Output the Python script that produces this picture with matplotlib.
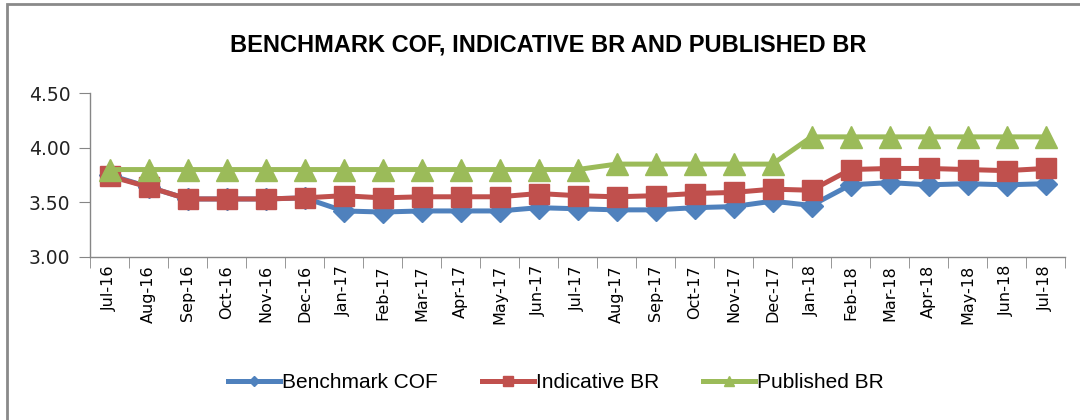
import matplotlib
matplotlib.use("Agg")
import matplotlib.pyplot as plt
from matplotlib.patches import Rectangle

months = ["Jul-16", "Aug-16", "Sep-16", "Oct-16", "Nov-16", "Dec-16",
          "Jan-17", "Feb-17", "Mar-17", "Apr-17", "May-17", "Jun-17",
          "Jul-17", "Aug-17", "Sep-17", "Oct-17", "Nov-17", "Dec-17",
          "Jan-18", "Feb-18", "Mar-18", "Apr-18", "May-18", "Jun-18", "Jul-18"]

benchmark_cof = [3.75, 3.64, 3.53, 3.53, 3.53, 3.54,
                 3.42, 3.41, 3.42, 3.42, 3.42, 3.45,
                 3.44, 3.43, 3.43, 3.45, 3.46, 3.51,
                 3.47, 3.66, 3.68, 3.66, 3.67, 3.66, 3.67]

indicative_br = [3.74, 3.64, 3.53, 3.53, 3.53, 3.54,
                 3.56, 3.54, 3.55, 3.55, 3.55, 3.58,
                 3.56, 3.55, 3.56, 3.58, 3.59, 3.62,
                 3.61, 3.80, 3.81, 3.81, 3.80, 3.79, 3.81]

published_br = [3.80, 3.80, 3.80, 3.80, 3.80, 3.80,
                3.80, 3.80, 3.80, 3.80, 3.80, 3.80,
                3.80, 3.85, 3.85, 3.85, 3.85, 3.85,
                4.10, 4.10, 4.10, 4.10, 4.10, 4.10, 4.10]

fig = plt.figure(figsize=(10.8, 4.2), dpi=100)
ax = fig.add_axes([90 / 1080, 163.3 / 420, 975 / 1080, 163.4 / 420])

x = list(range(len(months)))
ax.plot(x, benchmark_cof, color="#4F81BD", lw=3.6, marker="D", ms=11,
        label="Benchmark COF", zorder=3)
ax.plot(x, indicative_br, color="#C0504D", lw=3.6, marker="s", ms=15,
        label="Indicative BR", zorder=4)
ax.plot(x, published_br, color="#9BBB59", lw=3.6, marker="^", ms=16,
        label="Published BR", zorder=5)

ax.set_xlim(-0.5, len(months) - 0.5)
ax.set_ylim(3.0, 4.5)
ax.set_yticks([3.0, 3.5, 4.0, 4.5])
ax.set_yticklabels(["3.00", "3.50", "4.00", "4.50"], fontsize=13.5,
                   family="DejaVu Sans", color="#222222")

ax.set_xticks(x)
ax.set_xticklabels(months, rotation=90, fontsize=11.5, family="DejaVu Sans")
ax.tick_params(axis="x", which="major", length=0, pad=6)
ax.set_xticks([i - 0.5 for i in range(len(months) + 1)], minor=True)
ax.tick_params(axis="x", which="minor", length=8, color="#868686")
ax.tick_params(axis="y", length=8, color="#868686", pad=6)

for s in ["top", "right"]:
    ax.spines[s].set_visible(False)
for s in ["left", "bottom"]:
    ax.spines[s].set_color("#868686")
    ax.spines[s].set_linewidth(1)

fig.text(0.508, 0.893, "BENCHMARK COF, INDICATIVE BR AND PUBLISHED BR",
         ha="center", va="center", fontsize=17, fontweight="bold",
         family="Liberation Sans")

ax.legend(loc="center", bbox_to_anchor=(556 / 1080, 1 - 383 / 420), bbox_transform=fig.transFigure,
          ncol=3, frameon=False, markerscale=0.45, handlelength=2.5,
          handletextpad=0.1, columnspacing=2.1,
          prop={"family": "Liberation Sans", "size": 15})

fig.patches.append(Rectangle((7 / 1080, -0.1), 1.2, 1.1 - 4 / 420,
                             transform=fig.transFigure, fill=False,
                             edgecolor="#8A8A8A", lw=2))

fig.savefig("out.png", dpi=100)
